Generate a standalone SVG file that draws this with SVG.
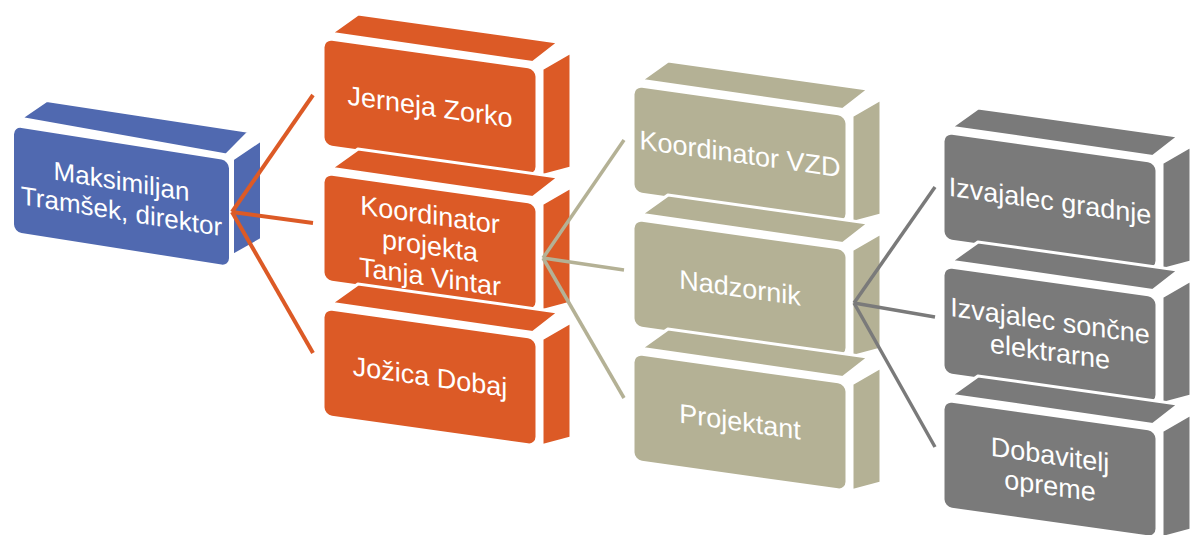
<svg xmlns="http://www.w3.org/2000/svg" width="1193" height="535" viewBox="0 0 1193 535">
<style>
.t{font-family:"Liberation Sans",Arial,sans-serif;font-size:27px;fill:#fff;text-anchor:middle}
.f{stroke:#fff;stroke-width:3;stroke-linejoin:round}
.b{fill:#5069B0}.o{fill:#DC5A26}.g{fill:#B4B195}.k{fill:#7A7A7A}
.lo{stroke:#DC5A26;stroke-width:4;fill:none}
.lg{stroke:#B4B195;stroke-width:3.5;fill:none}
.lk{stroke:#7A7A7A;stroke-width:3.5;fill:none}
</style>
<defs>
<g id="blk">
<polygon points="8,-6 35,-29 236,-29 210,-5"/>
<polygon points="219,0 248,-21 248,95 219,107"/>
<rect x="0" y="0" width="214" height="108" rx="9"/>
</g>
</defs>
<rect width="1193" height="535" fill="#fff"/>

<g id="n-direktor" transform="translate(12.5,125) skewY(9)">
<g class="b f">
<polygon points="8,-8 34,-30 237,-31 214,-4"/>
<polygon points="220,-1 249,-25 249,75 220,96"/>
<rect x="0" y="0" width="218" height="108" rx="9"/>
</g>
<text class="t" style="font-size:26px" x="109" y="48">Maksimiljan</text>
<text class="t" style="font-size:26px" x="109" y="78">Tramšek, direktor</text>
</g>

<g id="n-jerneja" transform="translate(323,38) skewY(8)">
<use href="#blk" class="o f"/>
<text class="t" x="107" y="63">Jerneja Zorko</text>
</g>
<g id="n-koordinator-projekta" transform="translate(323,173) skewY(8)">
<use href="#blk" class="o f"/>
<text class="t" x="107" y="36">Koordinator</text>
<text class="t" x="107" y="67">projekta</text>
<text class="t" x="107" y="98">Tanja Vintar</text>
</g>
<g id="n-jozica" transform="translate(323,308) skewY(8)">
<use href="#blk" class="o f"/>
<text class="t" x="107" y="63">Jožica Dobaj</text>
</g>

<g id="n-vzd" transform="translate(633,85) skewY(8)">
<use href="#blk" class="g f"/>
<text class="t" x="107" y="63">Koordinator VZD</text>
</g>
<g id="n-nadzornik" transform="translate(633,219) skewY(8)">
<use href="#blk" class="g f"/>
<text class="t" x="107" y="63">Nadzornik</text>
</g>
<g id="n-projektant" transform="translate(633,353) skewY(8)">
<use href="#blk" class="g f"/>
<text class="t" x="107" y="63">Projektant</text>
</g>

<g id="n-gradnje" transform="translate(943,132) skewY(8)">
<use href="#blk" class="k f"/>
<text class="t" x="107" y="63">Izvajalec gradnje</text>
</g>
<g id="n-soncne" transform="translate(943,266) skewY(8)">
<use href="#blk" class="k f"/>
<text class="t" x="107" y="49">Izvajalec sončne</text>
<text class="t" x="107" y="80">elektrarne</text>
</g>
<g id="n-dobavitelj" transform="translate(943,400) skewY(8)">
<use href="#blk" class="k f"/>
<text class="t" x="107" y="49">Dobavitelj</text>
<text class="t" x="107" y="80">opreme</text>
</g>

<g id="connectors" stroke-linecap="butt">
<line class="lo" x1="232" y1="212" x2="313" y2="95"/>
<line class="lo" x1="232" y1="212" x2="313" y2="223"/>
<line class="lo" x1="232" y1="212" x2="313" y2="353"/>
<line class="lg" x1="543" y1="258" x2="624" y2="140"/>
<line class="lg" x1="543" y1="258" x2="624" y2="270"/>
<line class="lg" x1="543" y1="258" x2="624" y2="398"/>
<line class="lk" x1="854" y1="303" x2="935" y2="187"/>
<line class="lk" x1="854" y1="303" x2="935" y2="317"/>
<line class="lk" x1="854" y1="303" x2="935" y2="447"/>
</g>
</svg>
